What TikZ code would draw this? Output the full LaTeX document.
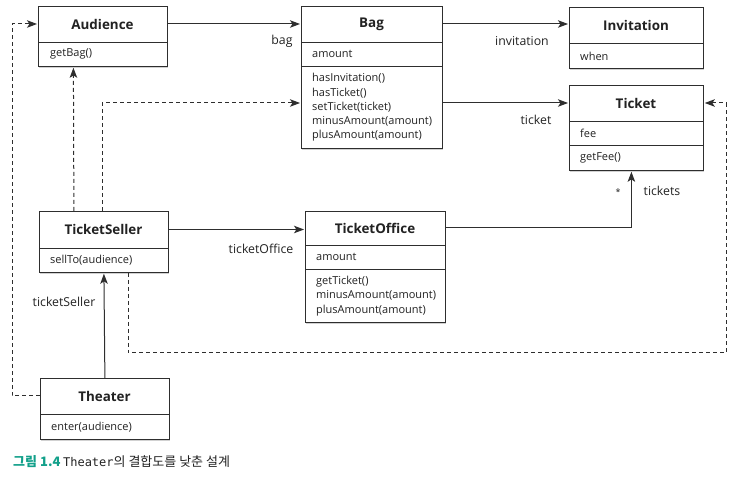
\documentclass[tikz,border=0pt]{standalone}
\usepackage{fontspec}
\setmainfont{Open Sans}
\newfontfamily\krfont{Noto Sans CJK KR}
\newfontfamily\codefont{DejaVu Sans Mono}
\usetikzlibrary{arrows.meta,shadows}

\definecolor{linec}{HTML}{2E2E2E}
\definecolor{txt}{HTML}{222222}
\definecolor{capgreen}{HTML}{12A08A}

\newcommand{\titlefont}{\fontsize{13.4}{15}\selectfont\bfseries}
\newcommand{\memfont}{\fontsize{11}{14.3}\selectfont}
\newcommand{\lblfont}{\fontsize{12.3}{15}\selectfont}

\tikzset{
  cls/.style={draw=linec, fill=white, line width=0.8pt, inner sep=0pt,
    anchor=north west,
    drop shadow={shadow xshift=0.6pt, shadow yshift=-1.8pt, opacity=0.3, fill=black!60}},
  divider/.style={draw=linec, line width=0.8pt},
  ctitle/.style={font=\titlefont, text=txt, inner sep=0pt},
  cmem/.style={font=\memfont, text=txt, anchor=west, align=left, inner sep=0pt},
  lbl/.style={font=\lblfont, text=txt, inner sep=0pt},
  tip/.style={-{Stealth[length=10pt,width=7.5pt,inset=2.4pt]}, shorten >=1pt},
  assoc/.style={draw=linec, line width=1pt, tip},
  dep/.style={draw=linec, line width=1pt, dash pattern=on 4pt off 3pt, tip},
}

\begin{document}
\begin{tikzpicture}[x=1pt, y=-1pt]
\useasboundingbox (0,0) rectangle (748,478);

% ---- Audience ----
\node[cls, minimum width=129pt, minimum height=60pt] (aud) at (38,6) {};
\draw[divider] (38,42) -- (167,42);
\node[ctitle] (audT) at (102.5,24) {Audience};
\node[cmem] (audM) at (50,54) {getBag()};

% ---- Bag ----
\node[cls, minimum width=141pt, minimum height=142pt] (bag) at (301,6) {};
\draw[divider] (301,42) -- (442,42);
\draw[divider] (301,66) -- (442,66);
\node[ctitle] (bagT) at (371.5,24) {Bag};
\node[cmem] (bagA) at (312,54) {amount};
\node[cmem] (bagM) at (312,107.5) {hasInvitation()\\hasTicket()\\setTicket(ticket)\\minusAmount(amount)\\plusAmount(amount)};

% ---- Invitation ----
\node[cls, minimum width=134pt, minimum height=61pt] (inv) at (569,7) {};
\draw[divider] (569,43) -- (703,43);
\node[ctitle] (invT) at (636,25) {Invitation};
\node[cmem] (invA) at (580,56) {when};

% ---- Ticket ----
\node[cls, minimum width=134pt, minimum height=85pt] (tkt) at (569,85) {};
\draw[divider] (569,121) -- (703,121);
\draw[divider] (569,145) -- (703,145);
\node[ctitle] (tktT) at (636,103) {Ticket};
\node[cmem] (tktA) at (580,133) {fee};
\node[cmem] (tktM) at (580,157.5) {getFee()};

% ---- TicketSeller ----
\node[cls, minimum width=129pt, minimum height=61pt] (tsel) at (39,211) {};
\draw[divider] (39,248) -- (168,248);
\node[ctitle] (tselT) at (103.5,229.5) {TicketSeller};
\node[cmem] (tselM) at (50,260) {sellTo(audience)};

% ---- TicketOffice ----
\node[cls, minimum width=140pt, minimum height=111pt] (toff) at (305,211) {};
\draw[divider] (305,245) -- (445,245);
\draw[divider] (305,269) -- (445,269);
\node[ctitle] (toffT) at (375,228) {TicketOffice};
\node[cmem] (toffA) at (316,257) {amount};
\node[cmem] (toffM) at (316,296) {getTicket()\\minusAmount(amount)\\plusAmount(amount)};

% ---- Theater ----
\node[cls, minimum width=129pt, minimum height=61pt] (thr) at (40,378) {};
\draw[divider] (40,414) -- (169,414);
\node[ctitle] (thrT) at (104.5,396) {Theater};
\node[cmem] (thrM) at (51,427) {enter(audience)};

% ---- routing points ----
\coordinate (lft) at (12,0);
\coordinate (rgt) at (726,353);

% ---- associations ----
\draw[assoc] (audT -| aud.east) -- (audT -| bag.west);
\draw[assoc] (bagT -| bag.east) -- (bagT -| inv.west);
\draw[assoc] (tktT -| bag.east) -- (tktT -| tkt.west);
\draw[assoc] (tselT -| tsel.east) -- (tselT -| toff.west);
\draw[assoc] (toffT -| toff.east) -| ([xshift=-5pt]tkt.south);
\draw[assoc] (thr.north) -- (tsel.south);

% ---- dependencies ----
\draw[dep] ([xshift=-30pt]tsel.north) -- ([xshift=-29.5pt]aud.south);
\draw[dep] ([xshift=-1.5pt]tsel.north) |- (tktT -| bag.west);
\draw[dep] (thrT -| thr.west) -- (thrT -| lft) -- (audT -| lft) -- (audT -| aud.west);
\draw[dep] ([xshift=24.5pt]tsel.south) |- (rgt) |- (tktT -| tkt.east);

% ---- role labels ----
\node[lbl] (lbag) at (282,41) {bag};
\node[lbl] (linv) at (522,41) {invitation};
\node[lbl] (ltkt) at (536,120) {ticket};
\node[lbl] (ltoff) at (261,249) {ticketOffice};
\node[lbl] (ltsel) at (64,302) {ticketSeller};
\node[lbl, font=\fontsize{9}{10}\selectfont] (lstar) at (618,192) {*};
\node[lbl] (ltkts) at (662,191) {tickets};

% ---- caption ----
\node[anchor=west, inner sep=0pt, text=txt] (cap) at (13,462)
  {{\krfont\bfseries\fontsize{13}{15}\selectfont\color{capgreen}그림 1.4} \fontsize{13}{15}\selectfont{\codefont\fontsize{12}{15}\selectfont Theater}{\krfont 의 결합도를 낮춘 설계}};
\end{tikzpicture}
\end{document}
